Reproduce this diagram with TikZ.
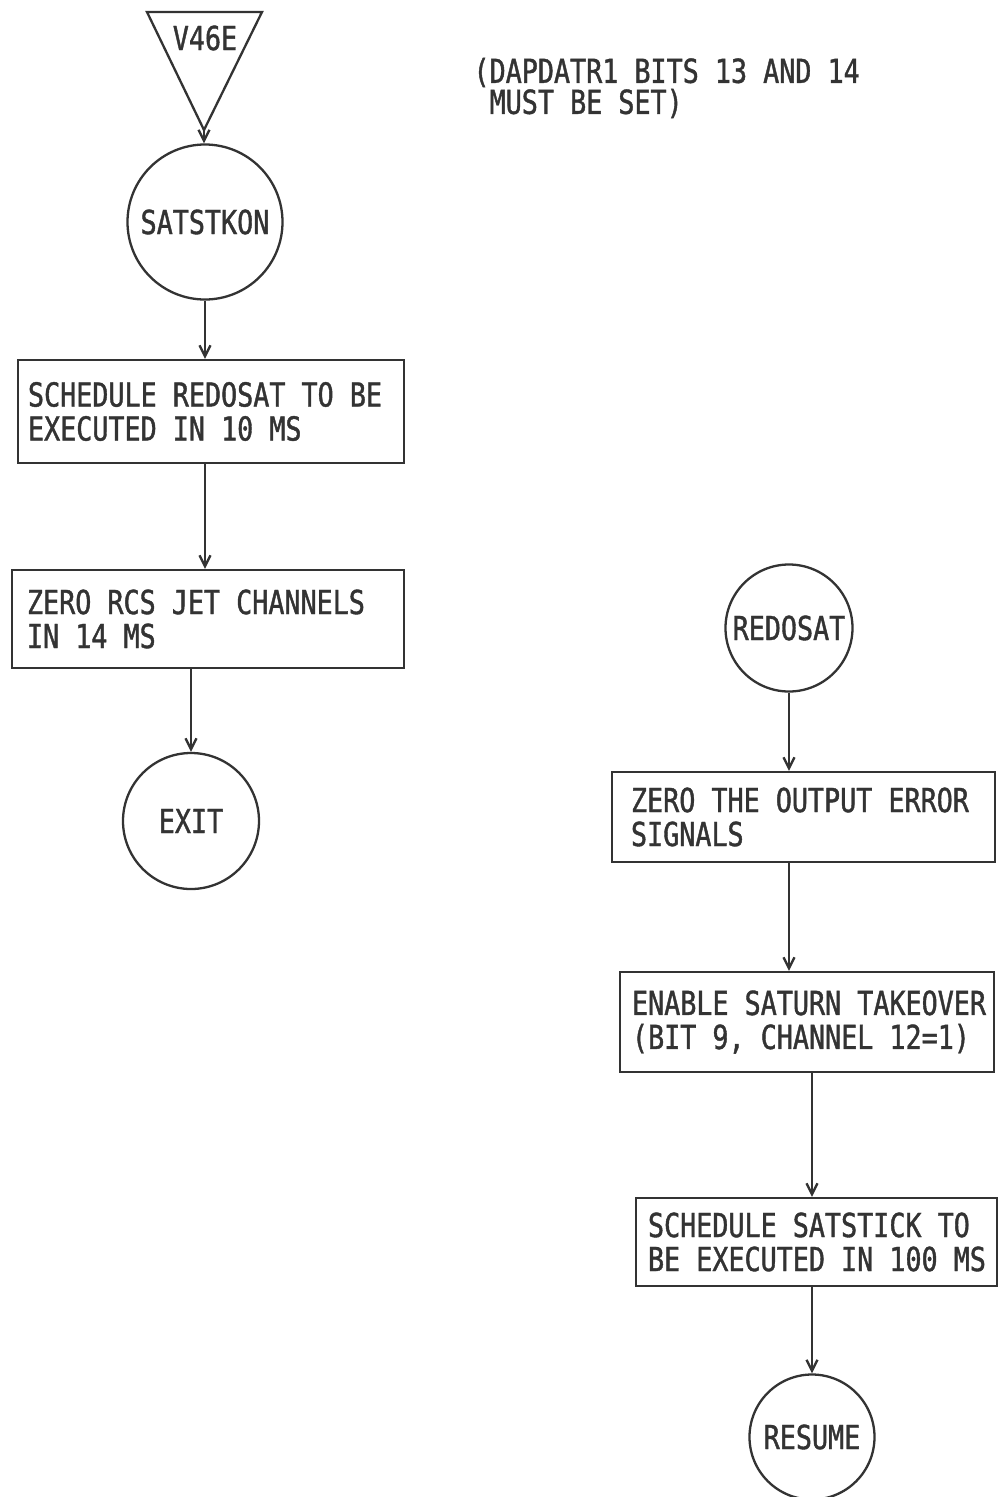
\documentclass[tikz,border=0pt]{standalone}
\usepackage{fontspec}
\newfontfamily\ibmfont[FakeStretch=0.81,FakeBold=1.2]{DejaVu Sans Mono}
\newcommand\ibmtext{\ibmfont\fontsize{33}{34}\selectfont\spaceskip=\fontcharwd\font`M\relax}
\newcommand\ibmnote{\ibmfont\fontsize{33}{31}\selectfont\spaceskip=\fontcharwd\font`M\relax}
\newcommand\twolines[2]{\mbox{#1}\\\mbox{#2}}
\usetikzlibrary{arrows.meta}
\definecolor{ink}{gray}{0.2}
\hbadness=10000 \hfuzz=100pt
\begin{document}
\begin{tikzpicture}[x=1pt,y=-1pt,
  txt/.style={font=\ibmtext, text=ink,
    execute at begin node={\spaceskip=\fontcharwd\font`M\relax\xspaceskip=\spaceskip}},
  ln/.style={line width=2.3pt, draw=ink},
  procbox/.style={txt, draw=ink, line width=2.3pt, rectangle, align=left, inner ysep=0pt},
  term/.style={txt, draw=ink, circle, line width=2.3pt, inner sep=0pt},
  arr/.style={line width=2.3pt, draw=ink, -{Straight Barb[length=11pt,width=11pt,line width=2.3pt]}}
]
\useasboundingbox[fill=white] (0,0) rectangle (999,1497);

% entry triangle
\coordinate (tl) at (147,12);
\coordinate (tr) at (262,12);
\coordinate (apex) at (204,130);
\draw[ln, line join=miter] (tl) -- (tr) -- (apex) -- cycle;
\node[txt] (v46e) at (205,38) {V46E};

% note
\node[txt, align=left, anchor=west, font=\ibmnote] (note) at (470,88)
  {(DAPDATR1 BITS 13 AND 14\\\phantom{(}MUST BE SET)};

% left column
\node[term, minimum size=155pt] (sat) at (205,222) {SATSTKON};
\node[procbox, text width=366pt, inner xsep=10pt, minimum height=103pt] (box1) at (211,411.5)
  {\twolines{SCHEDULE REDOSAT TO BE}{EXECUTED IN 10 MS}};
\node[procbox, text width=362pt, inner xsep=15pt, minimum height=98pt] (box2) at (208,619)
  {\twolines{ZERO RCS JET CHANNELS}{IN 14 MS}};
\node[term, minimum size=136pt] (exit) at (191,821) {EXIT};

% right column
\node[term, minimum size=127pt] (redo) at (789,628) {REDOSAT};
\node[procbox, text width=345pt, inner xsep=19pt, minimum height=90pt] (box3) at (803.5,817)
  {\twolines{ZERO THE OUTPUT ERROR}{SIGNALS}};
\node[procbox, text width=350pt, inner xsep=12pt, minimum height=100pt] (box4) at (807,1022)
  {\twolines{ENABLE SATURN TAKEOVER}{(BIT 9, CHANNEL 12=1)}};
\node[procbox, text width=337pt, inner xsep=12pt, minimum height=88pt] (box5) at (816.5,1242)
  {\twolines{SCHEDULE SATSTICK TO}{BE EXECUTED IN 100 MS}};
\node[term, minimum size=125pt] (resume) at (812,1437) {RESUME};

% connectors
\draw[arr] (apex) -- (apex |- sat.north);
\draw[arr] (sat.south) -- (sat.south |- box1.north);
\draw[arr] (sat.south |- box1.south) -- (sat.south |- box2.north);
\draw[arr] (exit.north |- box2.south) -- (exit.north);
\draw[arr] (redo.south) -- (redo.south |- box3.north);
\draw[arr] (redo.south |- box3.south) -- (redo.south |- box4.north);
\draw[arr] (resume.north |- box4.south) -- (resume.north |- box5.north);
\draw[arr] (resume.north |- box5.south) -- (resume.north);
\end{tikzpicture}
\end{document}
